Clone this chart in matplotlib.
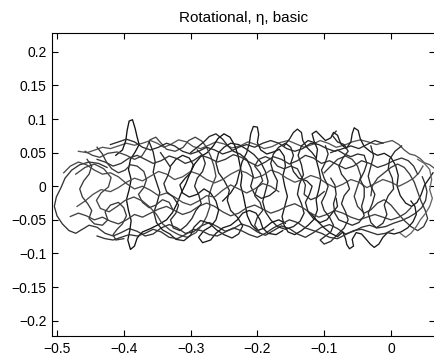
import numpy as np
import matplotlib
matplotlib.use('Agg')
import matplotlib.pyplot as plt

plt.rcParams['font.family'] = ['Liberation Sans', 'DejaVu Sans']

# trajectory points (x, y)
path_a = [(-0.468,0.052),(-0.455,0.050),(-0.443,0.054),(-0.432,0.058),(-0.420,0.056),(-0.408,0.060),(-0.396,0.064),(-0.384,0.061),(-0.372,0.064),(-0.360,0.068),(-0.350,0.064),(-0.340,0.058),(-0.330,0.062),(-0.318,0.069),(-0.306,0.066),(-0.296,0.059),(-0.285,0.056),(-0.273,0.061),(-0.262,0.066),(-0.250,0.063),(-0.238,0.057),(-0.226,0.060),(-0.214,0.066),(-0.202,0.062),(-0.190,0.056),(-0.178,0.059),(-0.166,0.065),(-0.154,0.068),(-0.142,0.063),(-0.130,0.058),(-0.118,0.062),(-0.106,0.068),(-0.094,0.064),(-0.082,0.058),(-0.070,0.061),(-0.058,0.066),(-0.046,0.069),(-0.034,0.066),(-0.022,0.062),(-0.010,0.065),(0.002,0.068),(0.012,0.062),(0.020,0.054),(0.028,0.048),(0.036,0.046),(0.044,0.041),(0.050,0.035),(0.058,0.032),(0.066,0.026)]
path_b = [(-0.425,0.028),(-0.438,0.034),(-0.452,0.036),(-0.466,0.032),(-0.478,0.024),(-0.488,0.012),(-0.494,-0.002),(-0.501,-0.016),(-0.504,-0.030),(-0.500,-0.044),(-0.492,-0.056),(-0.482,-0.066),(-0.472,-0.070),(-0.462,-0.064),(-0.452,-0.058),(-0.440,-0.061),(-0.428,-0.070),(-0.416,-0.074),(-0.404,-0.069),(-0.392,-0.063),(-0.380,-0.067),(-0.368,-0.074),(-0.356,-0.071),(-0.344,-0.062),(-0.332,-0.057),(-0.320,-0.062),(-0.308,-0.070),(-0.296,-0.068),(-0.284,-0.059),(-0.272,-0.054),(-0.260,-0.060),(-0.248,-0.067),(-0.236,-0.063),(-0.224,-0.056),(-0.212,-0.060),(-0.200,-0.068),(-0.188,-0.073),(-0.176,-0.066),(-0.164,-0.059),(-0.152,-0.063),(-0.140,-0.071),(-0.128,-0.076),(-0.116,-0.069),(-0.104,-0.061),(-0.092,-0.057),(-0.080,-0.063),(-0.068,-0.071),(-0.056,-0.067),(-0.044,-0.061),(-0.032,-0.058),(-0.020,-0.062),(-0.008,-0.060),(0.004,-0.055),(0.016,-0.051),(0.027,-0.046),(0.037,-0.040),(0.046,-0.032),(0.052,-0.021),(0.054,-0.008),(0.051,0.004),(0.047,0.014)]
path_c = [(-0.412,0.046),(-0.402,0.054),(-0.397,0.068),(-0.395,0.083),(-0.392,0.097),(-0.387,0.099),(-0.383,0.086),(-0.380,0.073),(-0.377,0.062),(-0.383,0.051),(-0.390,0.040),(-0.393,0.025),(-0.389,0.010),(-0.392,-0.005),(-0.396,-0.020),(-0.393,-0.036),(-0.389,-0.051),(-0.391,-0.066),(-0.394,-0.080),(-0.390,-0.094),(-0.384,-0.089),(-0.380,-0.077),(-0.372,-0.068),(-0.360,-0.063),(-0.348,-0.057),(-0.336,-0.050),(-0.327,-0.039),(-0.320,-0.025),(-0.314,-0.010),(-0.307,0.004),(-0.301,0.019),(-0.294,0.033),(-0.285,0.044),(-0.275,0.050),(-0.266,0.060),(-0.259,0.071),(-0.250,0.078),(-0.241,0.073),(-0.234,0.061),(-0.229,0.046),(-0.226,0.031),(-0.223,0.016),(-0.225,0.001),(-0.221,-0.014),(-0.218,-0.029),(-0.215,-0.044),(-0.209,-0.057),(-0.200,-0.066),(-0.189,-0.062),(-0.179,-0.054),(-0.168,-0.050),(-0.158,-0.055)]
path_d = [(-0.252,-0.022),(-0.240,-0.010),(-0.231,0.004),(-0.227,0.020),(-0.223,0.036),(-0.216,0.050),(-0.212,0.064),(-0.210,0.078),(-0.206,0.089),(-0.200,0.088),(-0.198,0.077),(-0.200,0.065),(-0.195,0.054),(-0.186,0.048),(-0.176,0.051),(-0.167,0.055),(-0.160,0.045),(-0.158,0.030),(-0.162,0.015),(-0.159,0.000),(-0.155,-0.015),(-0.159,-0.030),(-0.163,-0.045),(-0.160,-0.058),(-0.154,-0.068),(-0.144,-0.072),(-0.134,-0.066),(-0.124,-0.058),(-0.115,-0.049),(-0.110,-0.035),(-0.112,-0.020),(-0.108,-0.005),(-0.105,0.010),(-0.108,0.025),(-0.112,0.040),(-0.110,0.055),(-0.115,0.067),(-0.118,0.078),(-0.112,0.082),(-0.105,0.075),(-0.098,0.068),(-0.090,0.072),(-0.086,0.080),(-0.080,0.076),(-0.075,0.063),(-0.067,0.056),(-0.060,0.066),(-0.058,0.078),(-0.055,0.087),(-0.049,0.083),(-0.046,0.071),(-0.040,0.059),(-0.030,0.051),(-0.020,0.046),(-0.010,0.049),(0.000,0.043),(0.007,0.031),(0.011,0.016),(0.009,0.001),(0.014,-0.014),(0.022,-0.025),(0.031,-0.030),(0.039,-0.024),(0.045,-0.013),(0.050,0.001),(0.057,0.011),(0.063,0.020)]
path_e = [(-0.472,0.018),(-0.458,0.028),(-0.444,0.033),(-0.430,0.026),(-0.419,0.013),(-0.423,-0.001),(-0.434,-0.010),(-0.441,-0.021),(-0.435,-0.033),(-0.422,-0.038),(-0.410,-0.030),(-0.398,-0.021),(-0.385,-0.016),(-0.372,-0.022),(-0.361,-0.031),(-0.351,-0.042),(-0.343,-0.055),(-0.331,-0.065),(-0.318,-0.072),(-0.305,-0.076),(-0.292,-0.069),(-0.283,-0.058),(-0.276,-0.045),(-0.271,-0.030),(-0.273,-0.015),(-0.268,0.000),(-0.262,0.015),(-0.265,0.030),(-0.270,0.045),(-0.276,0.058),(-0.283,0.067),(-0.293,0.073),(-0.303,0.068),(-0.311,0.058),(-0.323,0.052),(-0.336,0.055),(-0.345,0.065),(-0.352,0.073),(-0.361,0.069),(-0.366,0.056),(-0.373,0.045),(-0.384,0.040),(-0.396,0.046),(-0.410,0.051),(-0.424,0.049),(-0.436,0.043),(-0.447,0.046),(-0.458,0.052)]
path_f = [(-0.362,0.066),(-0.356,0.051),(-0.353,0.036),(-0.356,0.021),(-0.351,0.006),(-0.346,-0.009),(-0.350,-0.024),(-0.355,-0.039),(-0.351,-0.054),(-0.342,-0.065),(-0.331,-0.071),(-0.322,-0.079),(-0.310,-0.081),(-0.300,-0.073),(-0.295,-0.061),(-0.285,-0.051),(-0.272,-0.055),(-0.261,-0.065),(-0.250,-0.072),(-0.238,-0.077),(-0.228,-0.071),(-0.222,-0.059),(-0.230,-0.046),(-0.240,-0.036),(-0.245,-0.021),(-0.242,-0.006),(-0.250,0.009),(-0.258,0.020),(-0.262,0.035),(-0.258,0.050),(-0.250,0.058),(-0.240,0.064),(-0.228,0.062),(-0.216,0.055),(-0.205,0.047),(-0.195,0.036),(-0.188,0.022),(-0.184,0.007),(-0.188,-0.008),(-0.192,-0.023),(-0.188,-0.038),(-0.180,-0.050),(-0.170,-0.060),(-0.158,-0.064),(-0.146,-0.060),(-0.136,-0.052),(-0.130,-0.040),(-0.134,-0.026),(-0.140,-0.012),(-0.137,0.003),(-0.131,0.017),(-0.134,0.032),(-0.139,0.046),(-0.134,0.060),(-0.124,0.068),(-0.112,0.064)]
path_g = [(-0.100,0.020),(-0.090,0.030),(-0.080,0.040),(-0.068,0.045),(-0.058,0.040),(-0.050,0.030),(-0.045,0.015),(-0.050,0.000),(-0.055,-0.015),(-0.050,-0.030),(-0.040,-0.040),(-0.030,-0.035),(-0.020,-0.025),(-0.010,-0.020),(0.000,-0.028),(0.010,-0.040),(0.020,-0.051),(0.030,-0.060),(0.040,-0.066),(0.049,-0.060),(0.055,-0.048),(0.051,-0.035),(0.045,-0.022),(0.040,-0.008),(0.035,0.006),(0.028,0.018),(0.020,0.028),(0.010,0.033),(0.000,0.028),(-0.010,0.020),(-0.020,0.012),(-0.028,0.000),(-0.030,-0.014)]
path_h = [(-0.120,-0.040),(-0.110,-0.052),(-0.100,-0.062),(-0.090,-0.070),(-0.080,-0.075),(-0.072,-0.068),(-0.068,-0.078),(-0.066,-0.087),(-0.062,-0.093),(-0.056,-0.089),(-0.058,-0.079),(-0.052,-0.069),(-0.044,-0.071),(-0.037,-0.079),(-0.031,-0.086),(-0.025,-0.091),(-0.018,-0.086),(-0.012,-0.076),(-0.005,-0.069),(0.005,-0.071),(0.015,-0.068),(0.025,-0.062),(0.033,-0.053),(0.038,-0.042),(0.036,-0.030),(0.030,-0.022)]
path_i = [(-0.470,-0.030),(-0.458,-0.022),(-0.446,-0.012),(-0.434,-0.005),(-0.420,-0.008),(-0.408,-0.002),(-0.396,0.006),(-0.384,0.012),(-0.372,0.008),(-0.360,0.015),(-0.348,0.022),(-0.336,0.018),(-0.324,0.010),(-0.312,0.014),(-0.300,0.022),(-0.288,0.018),(-0.276,0.010),(-0.264,0.005),(-0.252,0.010),(-0.240,0.018),(-0.228,0.024),(-0.216,0.020),(-0.204,0.012),(-0.192,0.016),(-0.180,0.024),(-0.168,0.020),(-0.156,0.012),(-0.144,0.006),(-0.132,0.010),(-0.120,0.016),(-0.108,0.012),(-0.096,0.004),(-0.084,-0.002),(-0.072,0.003),(-0.060,0.010),(-0.048,0.006),(-0.036,-0.002),(-0.024,0.004),(-0.012,0.010),(0.000,0.006),(0.012,0.000),(0.024,0.006),(0.034,0.012),(0.042,0.020),(0.048,0.030)]
path_j = [(-0.480,-0.045),(-0.468,-0.040),(-0.456,-0.044),(-0.444,-0.050),(-0.432,-0.046),(-0.420,-0.052),(-0.408,-0.056),(-0.396,-0.050),(-0.384,-0.042),(-0.372,-0.046),(-0.360,-0.040),(-0.348,-0.034),(-0.336,-0.030),(-0.324,-0.036),(-0.312,-0.042),(-0.300,-0.038),(-0.288,-0.030),(-0.276,-0.025),(-0.264,-0.030),(-0.252,-0.038),(-0.240,-0.044),(-0.228,-0.040),(-0.216,-0.032),(-0.204,-0.028),(-0.192,-0.034),(-0.180,-0.040),(-0.168,-0.036),(-0.156,-0.030),(-0.144,-0.026),(-0.132,-0.032),(-0.120,-0.040),(-0.108,-0.046),(-0.096,-0.042),(-0.084,-0.036),(-0.072,-0.040),(-0.060,-0.046),(-0.048,-0.050),(-0.036,-0.046),(-0.024,-0.042),(-0.012,-0.046),(0.000,-0.050),(0.012,-0.046),(0.022,-0.040),(0.030,-0.032)]
path_k = [(-0.440,0.040),(-0.428,0.036),(-0.416,0.030),(-0.404,0.034),(-0.392,0.042),(-0.380,0.046),(-0.368,0.040),(-0.356,0.034),(-0.344,0.038),(-0.332,0.045),(-0.320,0.041),(-0.308,0.034),(-0.296,0.038),(-0.284,0.046),(-0.272,0.042),(-0.260,0.036),(-0.248,0.040),(-0.236,0.047),(-0.224,0.043),(-0.212,0.036),(-0.200,0.030),(-0.188,0.036),(-0.176,0.044),(-0.164,0.040),(-0.152,0.033),(-0.140,0.038),(-0.128,0.046),(-0.116,0.042),(-0.104,0.034),(-0.092,0.038),(-0.080,0.032),(-0.068,0.026),(-0.056,0.030),(-0.044,0.038),(-0.032,0.034),(-0.020,0.028),(-0.008,0.032),(0.004,0.038),(0.016,0.042),(0.026,0.038),(0.034,0.030),(0.040,0.018)]
path_l = [(0.040,0.040),(0.050,0.034),(0.058,0.025),(0.061,0.010),(0.058,-0.005),(0.062,-0.018),(0.058,-0.030),(0.052,-0.040),(0.044,-0.050),(0.038,-0.060),(0.030,-0.070),(0.022,-0.076),(0.014,-0.070)]
path_m = [(-0.030,0.060),(-0.026,0.045),(-0.030,0.030),(-0.034,0.015),(-0.030,0.000),(-0.024,-0.012),(-0.028,-0.026),(-0.034,-0.040),(-0.030,-0.054),(-0.022,-0.062),(-0.012,-0.055),(-0.006,-0.042),(-0.010,-0.028),(-0.004,-0.014),(0.004,-0.004),(0.002,0.012),(-0.004,0.026),(-0.002,0.040),(0.006,0.052),(0.016,0.060)]
path_n = [(-0.330,0.030),(-0.322,0.040),(-0.312,0.046),(-0.302,0.042),(-0.296,0.032),(-0.300,0.020),(-0.308,0.012),(-0.316,0.002),(-0.312,-0.010),(-0.302,-0.016),(-0.290,-0.012),(-0.280,-0.004),(-0.270,-0.010),(-0.262,-0.022),(-0.258,-0.036),(-0.262,-0.050),(-0.270,-0.060),(-0.280,-0.066),(-0.288,-0.076),(-0.282,-0.084),(-0.270,-0.080),(-0.262,-0.070),(-0.252,-0.062),(-0.240,-0.058),(-0.230,-0.050),(-0.222,-0.040),(-0.212,-0.036),(-0.202,-0.040),(-0.196,-0.050),(-0.192,-0.062),(-0.184,-0.070),(-0.172,-0.072),(-0.162,-0.066)]
path_o = [(-0.098,0.060),(-0.094,0.048),(-0.098,0.036),(-0.104,0.024),(-0.100,0.012),(-0.094,0.000),(-0.098,-0.012),(-0.104,-0.024),(-0.100,-0.036),(-0.092,-0.046),(-0.086,-0.058),(-0.090,-0.068),(-0.098,-0.074),(-0.106,-0.080),(-0.100,-0.086),(-0.090,-0.082),(-0.080,-0.072),(-0.070,-0.062),(-0.064,-0.050),(-0.068,-0.038),(-0.074,-0.026),(-0.070,-0.014),(-0.062,-0.004),(-0.066,0.008),(-0.074,0.018),(-0.078,0.030),(-0.072,0.042),(-0.064,0.052),(-0.070,0.062),(-0.080,0.066),(-0.088,0.076),(-0.082,0.082)]
path_p = [(-0.455,0.040),(-0.448,0.030),(-0.452,0.018),(-0.460,0.008),(-0.466,-0.004),(-0.462,-0.016),(-0.454,-0.026),(-0.448,-0.036),(-0.452,-0.048),(-0.444,-0.056),(-0.432,-0.058),(-0.424,-0.050),(-0.428,-0.038),(-0.420,-0.028),(-0.408,-0.024),(-0.400,-0.032),(-0.396,-0.044),(-0.402,-0.056),(-0.410,-0.064),(-0.416,-0.072),(-0.412,-0.080),(-0.400,-0.078)]
path_q = [(-0.300,0.050),(-0.290,0.058),(-0.280,0.066),(-0.272,0.074),(-0.262,0.078),(-0.252,0.070),(-0.244,0.060),(-0.236,0.052),(-0.226,0.048),(-0.216,0.040),(-0.210,0.028),(-0.206,0.014),(-0.210,0.000),(-0.204,-0.012),(-0.194,-0.018),(-0.182,-0.014),(-0.172,-0.006),(-0.170,0.008),(-0.176,0.020),(-0.180,0.034),(-0.176,0.048),(-0.168,0.058),(-0.158,0.064),(-0.150,0.058),(-0.146,0.046),(-0.150,0.034),(-0.146,0.022),(-0.138,0.012),(-0.126,0.008),(-0.118,0.000),(-0.122,-0.012),(-0.128,-0.024),(-0.124,-0.038),(-0.116,-0.048),(-0.106,-0.054),(-0.096,-0.050),(-0.088,-0.040),(-0.080,-0.030),(-0.082,-0.018)]
path_s = [(-0.440,-0.074),(-0.428,-0.078),(-0.416,-0.080),(-0.404,-0.076),(-0.392,-0.072),(-0.380,-0.074),(-0.368,-0.070),(-0.356,-0.064),(-0.344,-0.068),(-0.332,-0.076),(-0.320,-0.078),(-0.308,-0.072),(-0.296,-0.064),(-0.284,-0.066),(-0.272,-0.072),(-0.260,-0.074),(-0.248,-0.068),(-0.236,-0.062),(-0.224,-0.066),(-0.212,-0.072),(-0.200,-0.076),(-0.188,-0.070),(-0.176,-0.062),(-0.164,-0.056),(-0.152,-0.050),(-0.140,-0.054),(-0.128,-0.062),(-0.116,-0.066),(-0.104,-0.070),(-0.092,-0.076),(-0.080,-0.078),(-0.068,-0.072),(-0.056,-0.066),(-0.044,-0.064),(-0.032,-0.068),(-0.020,-0.072),(-0.008,-0.070),(0.004,-0.064)]
path_t = [(-0.420,0.062),(-0.408,0.066),(-0.396,0.070),(-0.384,0.066),(-0.372,0.058),(-0.360,0.054),(-0.348,0.058),(-0.336,0.064),(-0.324,0.060),(-0.312,0.052),(-0.300,0.048),(-0.288,0.052),(-0.276,0.058),(-0.264,0.054),(-0.252,0.048),(-0.240,0.052),(-0.228,0.058),(-0.216,0.062),(-0.204,0.058),(-0.192,0.064),(-0.180,0.068),(-0.168,0.064),(-0.156,0.056),(-0.144,0.052),(-0.132,0.056),(-0.120,0.064),(-0.108,0.062),(-0.096,0.056),(-0.084,0.052),(-0.072,0.056),(-0.060,0.060),(-0.048,0.056),(-0.036,0.062),(-0.024,0.068),(-0.012,0.064)]
path_u = [(-0.490,0.020),(-0.480,0.030),(-0.468,0.036),(-0.456,0.032),(-0.444,0.024),(-0.432,0.018),(-0.420,0.020),(-0.408,0.014),(-0.396,0.004),(-0.384,-0.004),(-0.372,0.000),(-0.360,-0.006),(-0.348,-0.014),(-0.336,-0.010),(-0.324,-0.016),(-0.312,-0.024),(-0.300,-0.028),(-0.288,-0.022),(-0.276,-0.014),(-0.264,-0.016),(-0.252,-0.006),(-0.240,0.002),(-0.228,-0.004),(-0.216,-0.010),(-0.204,-0.004),(-0.192,0.004),(-0.180,0.000),(-0.168,-0.008)]
path_v = [(-0.345,0.050),(-0.338,0.040),(-0.330,0.028),(-0.334,0.016),(-0.340,0.004),(-0.336,-0.008),(-0.326,-0.016),(-0.318,-0.028),(-0.322,-0.040),(-0.330,-0.050),(-0.326,-0.062),(-0.316,-0.066),(-0.306,-0.058),(-0.298,-0.048),(-0.292,-0.036),(-0.284,-0.026),(-0.288,-0.012),(-0.294,0.000),(-0.290,0.012),(-0.282,0.022),(-0.278,0.034),(-0.282,0.046),(-0.290,0.054)]
path_w = [(-0.196,-0.070),(-0.204,-0.058),(-0.200,-0.046),(-0.192,-0.036),(-0.196,-0.024),(-0.204,-0.014),(-0.200,-0.002),(-0.192,0.008),(-0.196,0.020),(-0.204,0.030),(-0.198,0.040),(-0.188,0.044),(-0.178,0.040),(-0.170,0.030),(-0.160,0.026),(-0.150,0.030),(-0.140,0.026),(-0.134,0.014),(-0.128,0.002),(-0.130,-0.012),(-0.120,-0.020),(-0.110,-0.016),(-0.100,-0.008)]
path_x = [(-0.440,0.058),(-0.432,0.048),(-0.426,0.036),(-0.418,0.026),(-0.408,0.020),(-0.398,0.024),(-0.390,0.032),(-0.380,0.030),(-0.370,0.022),(-0.366,0.010),(-0.370,-0.002),(-0.378,-0.012),(-0.372,-0.024),(-0.362,-0.032),(-0.352,-0.028),(-0.342,-0.020),(-0.332,-0.024),(-0.326,-0.036)]
path_y = [(-0.090,0.050),(-0.080,0.054),(-0.070,0.048),(-0.060,0.044),(-0.050,0.048),(-0.040,0.046),(-0.036,0.034),(-0.040,0.022),(-0.046,0.010),(-0.040,-0.002),(-0.040,-0.016),(-0.044,-0.030),(-0.040,-0.044),(-0.048,-0.054),(-0.058,-0.058),(-0.068,-0.054),(-0.078,-0.050),(-0.084,-0.040),(-0.086,-0.026),(-0.082,-0.012),(-0.084,0.002),(-0.090,0.012)]
path_z = [(-0.160,0.060),(-0.152,0.070),(-0.146,0.080),(-0.140,0.085),(-0.134,0.080),(-0.132,0.068),(-0.126,0.058),(-0.118,0.050),(-0.112,0.042)]

paths = [path_a, path_b, path_c, path_d, path_e, path_f, path_g, path_h,
         path_i, path_j, path_k, path_l, path_m, path_n, path_o, path_p,
         path_q, path_s, path_t, path_u, path_v, path_w, path_x, path_y, path_z]
colors = ['#555555', '#333333', '#111111', '#1a1a1a', '#444444', '#222222', '#3a3a3a', '#1a1a1a',
          '#505050', '#404040', '#333333', '#666666', '#2a2a2a', '#1a1a1a', '#2a2a2a', '#3a3a3a',
          '#222222', '#333333', '#2a2a2a', '#4a4a4a', '#2a2a2a', '#333333', '#3a3a3a', '#2a2a2a',
          '#222222']

xticks = [-0.5, -0.4, -0.3, -0.2, -0.1, 0]
xlabels = ['\u22120.5', '\u22120.4', '\u22120.3', '\u22120.2', '\u22120.1', '0']
yticks = [0.2, 0.15, 0.1, 0.05, 0, -0.05, -0.1, -0.15, -0.2]
ylabels = ['0.2', '0.15', '0.1', '0.05', '0', '\u22120.05', '\u22120.1', '\u22120.15', '\u22120.2']

fig = plt.figure(figsize=(4.35, 3.58), dpi=100)
ax = fig.add_axes([52/435, 1-336/358, 1-52/435, (336-33)/358])

for p, c in zip(paths, colors):
    arr = np.array(p)
    ax.plot(arr[:, 0], arr[:, 1], color=c, lw=0.95, solid_joinstyle='round')

ax.set_xlim(-0.5075, 0.066)
ax.set_ylim(-0.2228, 0.228)
ax.set_xticks(xticks)
ax.set_xticklabels(xlabels)
ax.set_yticks(yticks)
ax.set_yticklabels(ylabels)
ax.tick_params(direction='in', top=True, right=True, length=4, labelsize=10, pad=4)
for s in ax.spines.values():
    s.set_linewidth(0.8)
ax.set_title('Rotational, \u03b7, basic', fontsize=11, pad=8)

fig.savefig('out.png', dpi=100)
